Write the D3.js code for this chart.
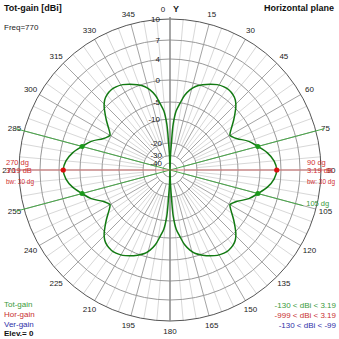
<!DOCTYPE html>
<html><head><meta charset="utf-8">
<script src="https://cdn.jsdelivr.net/npm/d3@7"></script>
<style>html,body{margin:0;padding:0;background:#fff;}svg{display:block;font-family:"Liberation Sans",Arial,sans-serif;}</style>
</head><body>
<script>
// ---- data ----
const ringLevels = [10, 7, 4, 0, -5, -10, -20, -30, -40];
const ringLabels = ["10", "7", "4", "0", "-5", "-10", "-20", "-30", "-40"];
const angleTicks = [15,30,45,60,75,90,105,120,135,150,165,180,195,210,225,240,255,270,285,300,315,330,345];
const patternAngles = [0,2,3,4,6,8.5,11,14,17,21,25,29,33,36,40,43,46,49,52,55,58,60,62,65,70,75,80,85,90,
  95,100,105,110,115,118,120,122,125,128,131,134,137,140,144,147,151,155,159,163,166,169,171.5,174,176,177,178,180,
  182,183,184,186,188.5,191,194,197,201,205,209,213,216,220,223,226,229,232,235,238,240,242,245,250,255,260,265,270,
  275,280,285,290,295,298,300,302,305,308,311,314,317,320,324,327,331,335,339,343,346,349,351.5,354,356,357,358];
const totGain = [-130,-30,-20,-12,-7.5,-5.2,-3.2,-1.7,-0.6,0.25,0.9,1.45,1.75,1.8,1.55,1.1,0.3,-0.9,-2.1,-3.3,-4.3,-4.7,-4.4,-3.6,-1.4,0.19,1.7,2.75,3.19,
  2.75,1.7,0.19,-1.4,-3.6,-4.4,-4.7,-4.3,-3.3,-2.1,-0.9,0.3,1.1,1.55,1.8,1.75,1.45,0.9,0.25,-0.6,-1.7,-3.2,-5.2,-7.5,-12,-20,-30,-130,
  -30,-20,-12,-7.5,-5.2,-3.2,-1.7,-0.6,0.25,0.9,1.45,1.75,1.8,1.55,1.1,0.3,-0.9,-2.1,-3.3,-4.3,-4.7,-4.4,-3.6,-1.4,0.19,1.7,2.75,3.19,
  2.75,1.7,0.19,-1.4,-3.6,-4.4,-4.7,-4.3,-3.3,-2.1,-0.9,0.3,1.1,1.55,1.8,1.75,1.45,0.9,0.25,-0.6,-1.7,-3.2,-5.2,-7.5,-12,-20,-30];
const maxAngles = [90, 270];
const maxGain = 3.19;
const bwAngles = [75, 105, 255, 285];
const bwGain = 0.19;
const legendLeft = ["Tot-gain", "Hor-gain", "Ver-gain"];
const legendRight = ["-130 < dBi < 3.19", "-999 < dBi < 3.19", "-130 < dBi < -99"];

// ---- layout ----
const W = 339, H = 339, cx = 170, cy = 170;
const svg = d3.select("body").append("svg").attr("width", W).attr("height", H);
const r = d3.scaleLinear()
  .domain([-50, -40, -30, -20, -10, -5, 0, 4, 7, 10])
  .range([0, 7, 14.5, 27, 51, 68, 90, 111, 130, 151])
  .clamp(true);
const R = r(10);
const rad = d => d * Math.PI / 180;
const px = (a, rr) => cx + rr * Math.sin(rad(a));
const py = (a, rr) => cy - rr * Math.cos(rad(a));
const g = svg.append("g");

// minor spokes every 5 deg
g.selectAll("line.minor").data(d3.range(0, 360, 5).filter(a => a % 15 !== 0)).join("line")
  .attr("x1", a => px(a, r(-20))).attr("y1", a => py(a, r(-20)))
  .attr("x2", a => px(a, R)).attr("y2", a => py(a, R))
  .attr("stroke", "#d8d8d8").attr("stroke-width", 1);
// major spokes every 15 deg
g.selectAll("line.major").data(d3.range(0, 360, 15).filter(a => a % 90 !== 0 || a === 90 || a === 270)).join("line")
  .attr("x1", a => px(a, r(-30))).attr("y1", a => py(a, r(-30)))
  .attr("x2", a => px(a, R)).attr("y2", a => py(a, R))
  .attr("stroke", "#a4a4a4").attr("stroke-width", 1);
// rings
g.selectAll("circle.ring").data(ringLevels).join("circle")
  .attr("cx", cx).attr("cy", cy).attr("r", d => r(d))
  .attr("fill", "none")
  .attr("stroke", d => d === 10 ? "#555" : "#999")
  .attr("stroke-width", 1);
// vertical axis
g.append("line").attr("x1", cx).attr("x2", cx).attr("y1", cy - R - 2).attr("y2", cy + R)
  .attr("stroke", "#888").attr("stroke-width", 1.5);

// angle labels
g.selectAll("text.ang").data(angleTicks).join("text")
  .attr("x", a => px(a, 161)).attr("y", a => py(a, 161))
  .attr("text-anchor", "middle").attr("dominant-baseline", "central")
  .attr("font-size", 8).attr("fill", "#222").text(a => a);
g.append("text").attr("x", cx - 7).attr("y", cy - 161).attr("text-anchor", "middle")
  .attr("dominant-baseline", "central").attr("font-size", 8).attr("fill", "#222").text("0");
g.append("text").attr("x", cx + 6).attr("y", cy - 161).attr("text-anchor", "middle")
  .attr("dominant-baseline", "central").attr("font-size", 9).attr("font-weight", "bold").attr("fill", "#222").text("Y");

// beamwidth lines
g.selectAll("line.bw").data(bwAngles).join("line")
  .attr("x1", cx).attr("y1", cy)
  .attr("x2", a => px(a, a === 105 ? 138 : 160)).attr("y2", a => py(a, a === 105 ? 138 : 160))
  .attr("stroke", "#48a848").attr("stroke-width", 1);
// max direction line
g.append("line").attr("x1", px(270, 162)).attr("y1", cy).attr("x2", px(90, 162)).attr("y2", cy)
  .attr("stroke", "#d87878").attr("stroke-width", 1.2);

// ring labels
g.selectAll("text.ring").data(ringLevels).join("text")
  .attr("x", (d, i) => cx - 10 + (d <= -20 ? 2 : 0))
  .attr("y", d => cy - r(d))
  .attr("text-anchor", "end").attr("dominant-baseline", "central")
  .attr("font-size", 8).attr("fill", "#222")
  .text((d, i) => ringLabels[i]);

// pattern
const pts = patternAngles.map((a, i) => [rad(a), r(totGain[i])]);
const line = d3.lineRadial().curve(d3.curveCatmullRomClosed.alpha(0.5));
g.append("path").attr("transform", `translate(${cx},${cy})`).attr("d", line(pts))
  .attr("fill", "none").attr("stroke", "#137a13").attr("stroke-width", 1.5);

// bw dots
g.selectAll("circle.bwd").data(bwAngles).join("circle")
  .attr("cx", a => px(a, r(bwGain))).attr("cy", a => py(a, r(bwGain))).attr("r", 2.5)
  .attr("fill", "#1a9a1a");
// max dots
g.selectAll("circle.mx").data(maxAngles).join("circle")
  .attr("cx", a => px(a, r(maxGain))).attr("cy", a => py(a, r(maxGain))).attr("r", 2.6)
  .attr("fill", "#dd1010");

// red annotations
const red = "#d03030";
[[6, 270], [307, 90]].forEach(([x, a]) => {
  g.append("text").attr("x", x).attr("y", cy - 8).attr("font-size", 7.5).attr("fill", red)
    .attr("dominant-baseline", "central").text(a + " dg");
  g.append("text").attr("x", x).attr("y", cy).attr("font-size", 7.5).attr("fill", red)
    .attr("dominant-baseline", "central").text(maxGain + " dB");
  g.append("text").attr("x", x).attr("y", cy + 11).attr("font-size", 7.5).attr("fill", red)
    .attr("dominant-baseline", "central").attr("textLength", 28).attr("lengthAdjust", "spacingAndGlyphs").text("bw: 30 dg");
});
g.append("text").attr("x", px(105, 140) + 1).attr("y", py(105, 140) - 3).attr("font-size", 7.5)
  .attr("fill", "#3a9a3a").attr("dominant-baseline", "central").text("105 dg");

// titles
svg.append("text").attr("x", 4).attr("y", 8).attr("font-size", 9).attr("font-weight", "bold")
  .attr("dominant-baseline", "central").attr("fill", "#111").text("Tot-gain [dBi]");
svg.append("text").attr("x", 4).attr("y", 27).attr("font-size", 8)
  .attr("dominant-baseline", "central").attr("fill", "#222").text("Freq=770");
svg.append("text").attr("x", 334).attr("y", 8).attr("font-size", 9).attr("font-weight", "bold")
  .attr("text-anchor", "end").attr("dominant-baseline", "central").attr("fill", "#111").text("Horizontal plane");

// legends
const legColors = ["#3a9a3a", "#c83030", "#3030a8"];
svg.selectAll("text.ll").data(legendLeft).join("text")
  .attr("x", 4).attr("y", (d, i) => 304 + i * 10).attr("font-size", 8)
  .attr("dominant-baseline", "central").attr("fill", (d, i) => legColors[i]).text(d => d);
svg.append("text").attr("x", 4).attr("y", 333).attr("font-size", 8).attr("font-weight", "bold")
  .attr("dominant-baseline", "central").attr("fill", "#111").text("Elev.= 0");
svg.selectAll("text.lr").data(legendRight).join("text")
  .attr("x", 336).attr("y", (d, i) => 305 + i * 10).attr("font-size", 8).attr("text-anchor", "end")
  .attr("dominant-baseline", "central").attr("fill", (d, i) => legColors[i]).text(d => d);
</script>
</body></html>
